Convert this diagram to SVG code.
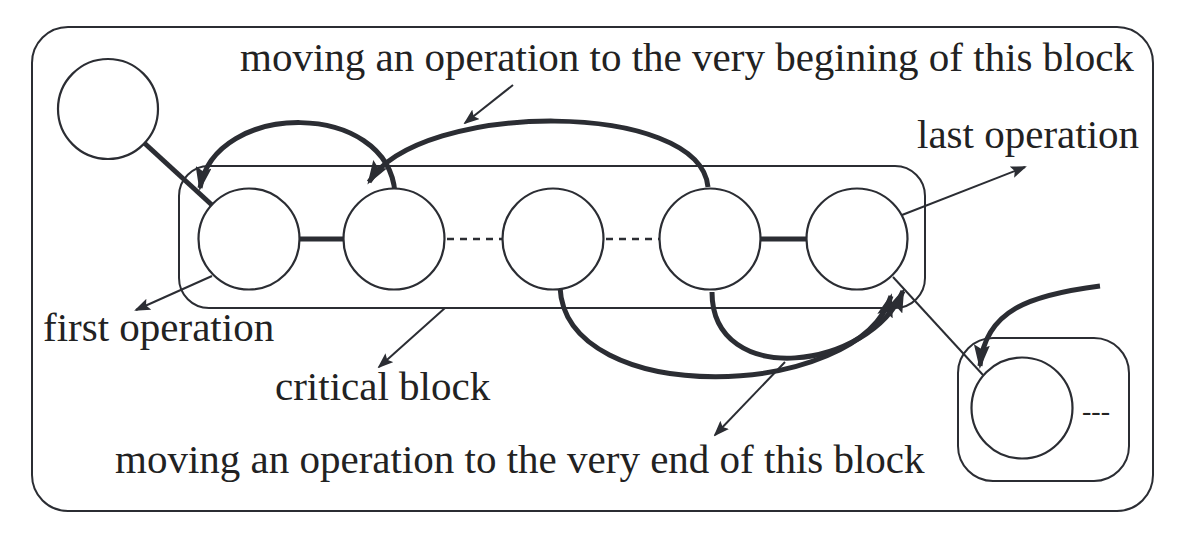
<svg xmlns="http://www.w3.org/2000/svg" width="1184" height="539" viewBox="0 0 1184 539">
<style>
.box{fill:none;stroke:#2b2d33;stroke-width:2}
.node{fill:#fff;stroke:#2b2d33;stroke-width:2.2}
.thin{fill:none;stroke:#2b2d33;stroke-width:2}
.thick{fill:none;stroke:#2b2d33;stroke-width:5}
.dash{fill:none;stroke:#2b2d33;stroke-width:2.5;stroke-dasharray:7,6}
.lbl{font-family:"Liberation Serif","Times New Roman",serif;font-size:41px;fill:#222}
</style>
<defs>
<marker id="ah" markerUnits="userSpaceOnUse" markerWidth="16" markerHeight="12" refX="14" refY="6" orient="auto">
<path d="M0,0 L16,6 L0,12 L3,6 Z" fill="#2b2d33"/>
</marker>
<marker id="AH" markerUnits="userSpaceOnUse" markerWidth="24" markerHeight="16" refX="21" refY="8" orient="auto">
<path d="M0,0 L24,8 L0,16 L4,8 Z" fill="#2b2d33"/>
</marker>
</defs>
<rect class="box" x="32" y="27" width="1121" height="484" rx="36"/>
<g id="critical-block"><rect class="box" x="179" y="166" width="746" height="142" rx="30"/></g>
<g id="next-block"><rect class="box" x="958" y="338" width="171" height="143" rx="35"/></g>
<g id="connectors">
<line class="thick" x1="141" y1="140" x2="213" y2="206"/>
<line class="thick" x1="300" y1="239" x2="344" y2="239"/>
<line class="dash" x1="447" y1="239" x2="502" y2="239"/>
<line class="dash" x1="606" y1="239" x2="659" y2="239"/>
<line class="thick" x1="760" y1="239" x2="806" y2="239"/>
<line class="thin" x1="893" y1="277" x2="983" y2="375"/>
<path class="thick" d="M395,193 C388,100 215,100 200,188" marker-end="url(#AH)"/>
<path class="thick" d="M708,187 C700,100 420,100 369,182" marker-end="url(#AH)"/>
<path class="thick" d="M560,287 C565,410 860,400 891,296" marker-end="url(#AH)"/>
<path class="thick" d="M712,292 C712,390 870,370 903,291" marker-end="url(#AH)"/>
<path class="thick" d="M1100,286 C1030,295 985,310 980,366" marker-end="url(#AH)"/>
<line class="thin" x1="513" y1="85" x2="465" y2="123" marker-end="url(#ah)"/>
<line class="thin" x1="902" y1="215" x2="1025" y2="167" marker-end="url(#ah)"/>
<line class="thin" x1="212" y1="276" x2="136" y2="310" marker-end="url(#ah)"/>
<line class="thin" x1="445" y1="308" x2="379" y2="367" marker-end="url(#ah)"/>
<line class="thin" x1="785" y1="362" x2="715" y2="435" marker-end="url(#ah)"/>
</g>
<g id="n0"><circle class="node" cx="108" cy="109" r="50"/></g>
<g id="n1"><circle class="node" cx="249" cy="239" r="50.5"/></g>
<g id="n2"><circle class="node" cx="394" cy="239" r="50.5"/></g>
<g id="n3"><circle class="node" cx="553" cy="239" r="50.5"/></g>
<g id="n4"><circle class="node" cx="710" cy="239" r="50.5"/></g>
<g id="n5"><circle class="node" cx="857" cy="239" r="50.5"/></g>
<g id="n6"><circle class="node" cx="1022" cy="408" r="50.5"/></g>
<g id="labels">
<text class="lbl" x="240" y="71">moving an operation to the very begining of this block</text>
<text class="lbl" x="917" y="148">last operation</text>
<text class="lbl" x="43" y="341">first operation</text>
<text class="lbl" x="275" y="400">critical block</text>
<text class="lbl" x="115" y="473">moving an operation to the very end of this block</text>
<text class="lbl" x="1082" y="420" style="font-size:28px">---</text>
</g>
</svg>
